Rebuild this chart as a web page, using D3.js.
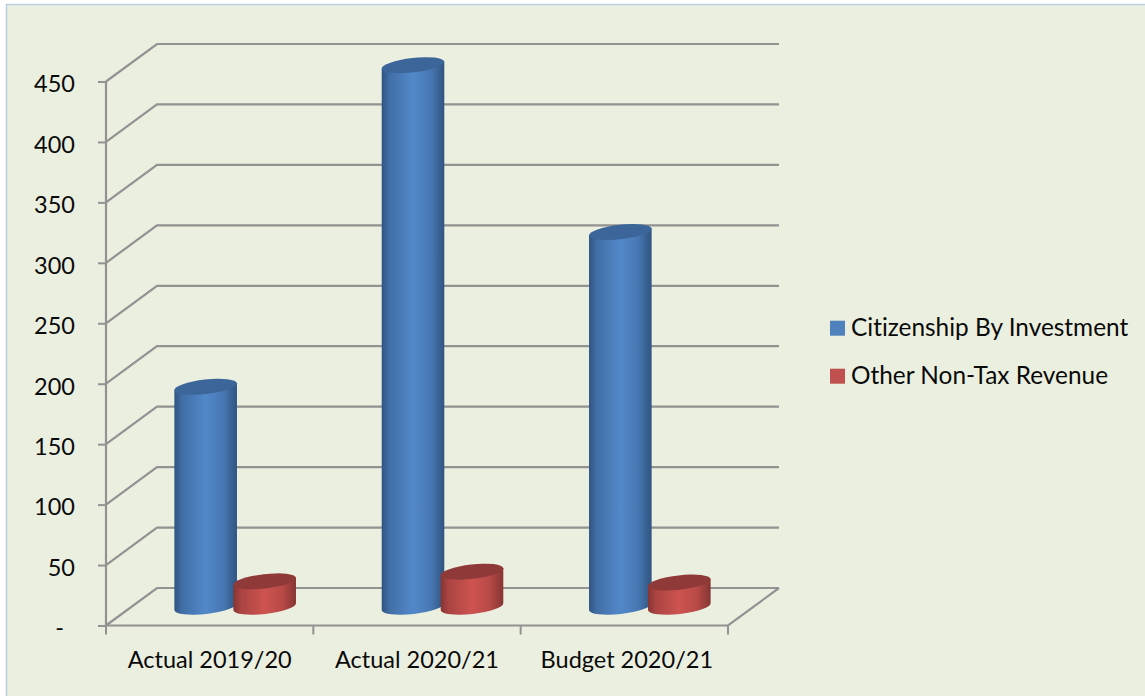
<!DOCTYPE html>
<html>
<head>
<meta charset="utf-8">
<script src="https://cdn.jsdelivr.net/npm/d3@7/dist/d3.min.js"></script>
<style>
  html, body { margin: 0; padding: 0; background: #fff; overflow: hidden; }
  text { font-family: Lato, "Open Sans", sans-serif; fill: #0a0a0a; font-variant-ligatures: none; }
</style>
</head>
<body>
<script>
// Revenue figures, EC$ millions
const categories = ["Actual 2019/20", "Actual 2020/21", "Budget 2020/21"];
const citizenship = [182, 448, 310];
const otherNonTax = [21, 29, 20];
const seriesNames = ["Citizenship By Investment", "Other Non-Tax Revenue"];
const yTicks = [0, 50, 100, 150, 200, 250, 300, 350, 400, 450];
const tickLabels = ["-", "50", "100", "150", "200", "250", "300", "350", "400", "450"];

const W = 1145, H = 696;
const svg = d3.select("body").append("svg").attr("width", W).attr("height", H).style("display", "block");

// Chart panel
svg.append("rect").attr("x", 6.5).attr("y", 4.5).attr("width", W).attr("height", H)
  .attr("fill", "#ebefdf").attr("stroke", "#b9cde5").attr("stroke-width", 1.5);

// Front plane scales plus the oblique depth of the floor
const y = d3.scaleLinear().domain([0, 450]).range([625.5, 81.5]);
const x = d3.scaleBand().domain(categories).range([106, 728]);
const depth = { dx: 51, dy: -37.5 };
const grid = "#929292";

const gridG = svg.append("g").attr("fill", "none").attr("stroke", grid).attr("stroke-width", 2.2);
const line = d3.line();

// Wall and side gridlines
yTicks.forEach(t => {
  gridG.append("path").attr("d", line([
    [x.range()[0], y(t)],
    [x.range()[0] + depth.dx, y(t) + depth.dy],
    [x.range()[1] + depth.dx, y(t) + depth.dy]
  ]));
});
// Floor outline, front edge and right edge
gridG.append("path").attr("d", line([
  [x.range()[0], y(0)], [x.range()[1], y(0)],
  [x.range()[1] + depth.dx, y(0) + depth.dy]
]));
// Vertical axis with outward ticks; labels sit well clear of the axis
gridG.append("path").attr("d", line([[x.range()[0], y(450)], [x.range()[0], y(0)]]));
const yAxis = d3.axisLeft(y).tickValues(yTicks).tickSize(8).tickPadding(23)
  .tickFormat((d, i) => tickLabels[i]);
const yG = svg.append("g").attr("transform", `translate(${x.range()[0]},0)`).call(yAxis);
yG.select(".domain").remove();
yG.selectAll("line").attr("stroke", grid).attr("stroke-width", 2);
yG.selectAll("text")
  .attr("font-size", 23.5).attr("font-family", "Lato")
  .attr("dy", "0.44em")
  // The zero dash carries the accounting-format gap on its right
  .attr("dx", d => d === 0 ? -11 : 0);

// Category axis ticks sit on the band edges
const xEdges = categories.map(c => x(c)).concat(x.range()[1]);
svg.append("g").selectAll("line").data(xEdges).join("line")
  .attr("x1", d => d).attr("x2", d => d)
  .attr("y1", y(0)).attr("y2", y(0) + 9)
  .attr("stroke", grid).attr("stroke-width", 2);
svg.append("g").selectAll("text").data(categories).join("text")
  .attr("x", (d, i) => x(d) + x.bandwidth() / 2 + (i === 2 ? 2.5 : 0)).attr("y", 668)
  .attr("text-anchor", "middle").attr("font-size", 23.5).text(d => d);

// Cylinder shading
const defs = svg.append("defs");
function shade(id, edge, mid) {
  const g = defs.append("linearGradient").attr("id", id);
  [[0, edge], [0.12, d3.interpolateRgb(edge, mid)(0.5)], [0.5, mid],
   [0.78, d3.interpolateRgb(edge, mid)(0.7)], [1, edge]].forEach(([o, c]) =>
    g.append("stop").attr("offset", o).attr("stop-color", c));
}
shade("blueBody", "#2f5480", "#5288c9");
shade("redBody", "#863533", "#cd5350");

const colors = [
  { body: "url(#blueBody)", top: "#3c6699", key: "#4f81bd" },
  { body: "url(#redBody)", top: "#8f3a38", key: "#c0504d" }
];
const offsets = d3.scalePoint().domain([0, 1]).range([-29.5, 29.5]);
const r = { x: 31.5, y: 7.2, tilt: -6.5 };
const sinT = Math.sin(r.tilt * Math.PI / 180), cosT = Math.cos(r.tilt * Math.PI / 180);

// One cylinder: a tilted ellipse for the cap, swept down to the floor
function cylinder(parent, cx, value, s) {
  const baseY = y(0) + depth.dy / 2;
  const topY = baseY - (y(0) - y(value));
  const ex = r.x * cosT, ey = r.x * sinT;
  const body = `M${cx - ex},${topY - ey}` +
    `L${cx - ex},${baseY - ey}` +
    `A${r.x},${r.y} ${r.tilt} 0 0 ${cx + ex},${baseY + ey}` +
    `L${cx + ex},${topY + ey}Z`;
  parent.append("path").attr("d", body).attr("fill", colors[s].body);
  parent.append("ellipse").attr("rx", r.x).attr("ry", r.y)
    .attr("transform", `translate(${cx},${topY}) rotate(${r.tilt})`)
    .attr("fill", colors[s].top);
}

const bars = svg.append("g");
categories.forEach((c, i) => {
  const cx = x(c) + x.bandwidth() / 2 + depth.dx / 2;
  [citizenship[i], otherNonTax[i]].forEach((v, s) => cylinder(bars, cx + offsets(s), v, s));
});

// Legend
const legend = svg.append("g");
seriesNames.forEach((name, i) => {
  const ly = 328 + i * 48;
  legend.append("rect").attr("x", 830).attr("y", ly - 7.3).attr("width", 15).attr("height", 15)
    .attr("fill", colors[i].key);
  legend.append("text").attr("x", 851).attr("y", ly + 7.7).attr("font-size", 24.4).text(name);
});
</script>
</body>
</html>
